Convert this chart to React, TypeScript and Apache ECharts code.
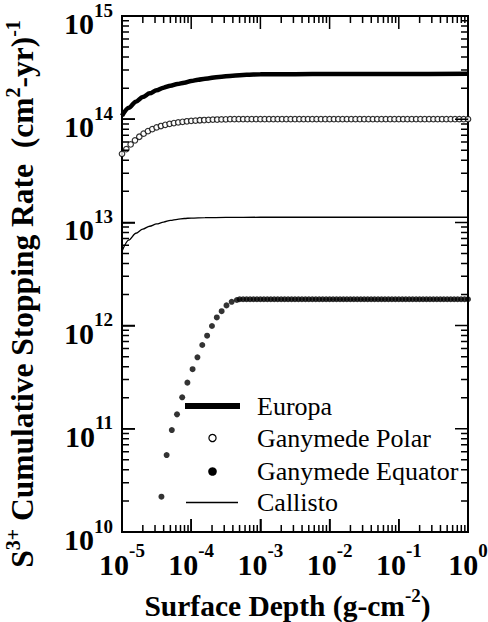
import { useEffect, useRef } from 'react';
import * as echarts from 'echarts';

const FONT = 'Liberation Serif';

const seriesNames = ['Europa', 'Ganymede Polar', 'Ganymede Equator', 'Callisto'];

const xDecades = [1e-5, 1e-4, 1e-3, 1e-2, 1e-1, 1];
const yDecades = [1e10, 1e11, 1e12, 1e13, 1e14, 1e15];
const minorSteps = [2, 3, 4, 5, 6, 7, 8, 9];

// Europa (thick line): depth exponent (log10 g/cm^2) and rate (cm^2-yr)^-1
const europaDepthExp = [-5, -4.9, -4.8, -4.7, -4.6, -4.5, -4.4, -4.3, -4.2, -4.1, -4.0, -3.9, -3.8, -3.6, -3.4, -3.2, -3.0, -2.5, -2, -1, 0];
const europaRate = [1.08e14, 1.29e14, 1.48e14, 1.64e14, 1.78e14, 1.91e14, 2.02e14, 2.11e14, 2.19e14, 2.26e14, 2.34e14, 2.41e14, 2.47e14, 2.57e14, 2.64e14, 2.69e14, 2.72e14, 2.73e14, 2.74e14, 2.74e14, 2.75e14];

// Ganymede Polar (open circles)
const polarDepthExp = [
  -5, -4.9375, -4.875, -4.8125, -4.75, -4.6875, -4.625, -4.5625,
  -4.5, -4.4375, -4.375, -4.3125, -4.25, -4.1875, -4.125, -4.0625,
  -4, -3.9375, -3.875, -3.8125, -3.75, -3.6875, -3.625, -3.5625,
  -3.5, -3.4375, -3.375, -3.3125, -3.25, -3.1875, -3.125, -3.0625,
  -3, -2.9375, -2.875, -2.8125, -2.75, -2.6875, -2.625, -2.5625,
  -2.5, -2.4375, -2.375, -2.3125, -2.25, -2.1875, -2.125, -2.0625,
  -2, -1.9375, -1.875, -1.8125, -1.75, -1.6875, -1.625, -1.5625,
  -1.5, -1.4375, -1.375, -1.3125, -1.25, -1.1875, -1.125, -1.0625,
  -1, -0.9375, -0.875, -0.8125, -0.75, -0.6875, -0.625, -0.5625,
  -0.5, -0.4375, -0.375, -0.3125, -0.25, -0.1875, -0.125, -0.0625, 0,
];
const polarRate = [
  4.62e13, 5.13e13, 5.69e13, 6.24e13, 6.76e13, 7.24e13, 7.66e13, 8.0e13,
  8.32e13, 8.59e13, 8.83e13, 9.02e13, 9.18e13, 9.31e13, 9.44e13, 9.55e13,
  9.64e13, 9.7e13, 9.77e13, 9.82e13, 9.86e13, 9.91e13, 9.93e13, 9.95e13,
  9.98e13, 1e14, 1e14, 1e14, 1e14, 1e14, 1e14, 1e14,
  1e14, 1e14, 1e14, 1e14, 1e14, 1e14, 1e14, 1e14,
  1e14, 1e14, 1e14, 1e14, 1e14, 1e14, 1e14, 1e14,
  1e14, 1e14, 1e14, 1e14, 1e14, 1e14, 1e14, 1e14,
  1e14, 1e14, 1e14, 1e14, 1e14, 1e14, 1e14, 1e14,
  1e14, 1e14, 1e14, 1e14, 1e14, 1e14, 1e14, 1e14,
  1e14, 1e14, 1e14, 1e14, 1e14, 1e14, 1e14, 1e14, 1e14,
];

// Ganymede Equator (filled dots)
const equatorDepthExp = [
  -4.43, -4.355, -4.28, -4.205, -4.13, -4.055, -3.98, -3.91, -3.84, -3.77, -3.7, -3.63, -3.56, -3.49, -3.415, -3.34,
  -3.3, -3.25, -3.2, -3.15, -3.1, -3.05, -3, -2.95, -2.9, -2.85,
  -2.8, -2.75, -2.7, -2.65, -2.6, -2.55, -2.5, -2.45, -2.4, -2.35,
  -2.3, -2.25, -2.2, -2.15, -2.1, -2.05, -2, -1.95, -1.9, -1.85,
  -1.8, -1.75, -1.7, -1.65, -1.6, -1.55, -1.5, -1.45, -1.4, -1.35,
  -1.3, -1.25, -1.2, -1.15, -1.1, -1.05, -1, -0.95, -0.9, -0.85,
  -0.8, -0.75, -0.7, -0.65, -0.6, -0.55, -0.5, -0.45, -0.4, -0.35,
  -0.3, -0.25, -0.2, -0.15, -0.1, -0.05, 0,
];
const equatorRate = [
  2.2e10, 5.57e10, 9.72e10, 1.38e11, 2.02e11, 2.8e11, 3.78e11, 4.93e11, 6.49e11, 7.98e11, 9.91e11, 1.2e12, 1.38e12, 1.57e12, 1.7e12, 1.77e12,
  1.8e12, 1.8e12, 1.8e12, 1.8e12, 1.8e12, 1.8e12, 1.8e12, 1.8e12, 1.8e12, 1.8e12,
  1.8e12, 1.8e12, 1.8e12, 1.8e12, 1.8e12, 1.8e12, 1.8e12, 1.8e12, 1.8e12, 1.8e12,
  1.8e12, 1.8e12, 1.8e12, 1.8e12, 1.8e12, 1.8e12, 1.8e12, 1.8e12, 1.8e12, 1.8e12,
  1.8e12, 1.8e12, 1.8e12, 1.8e12, 1.8e12, 1.8e12, 1.8e12, 1.8e12, 1.8e12, 1.8e12,
  1.8e12, 1.8e12, 1.8e12, 1.8e12, 1.8e12, 1.8e12, 1.8e12, 1.8e12, 1.8e12, 1.8e12,
  1.8e12, 1.8e12, 1.8e12, 1.8e12, 1.8e12, 1.8e12, 1.8e12, 1.8e12, 1.8e12, 1.8e12,
  1.8e12, 1.8e12, 1.8e12, 1.8e12, 1.8e12, 1.8e12, 1.8e12,
];

// Callisto (thin line)
const callistoDepthExp = [-5, -4.9, -4.8, -4.7, -4.6, -4.5, -4.4, -4.3, -4.2, -4.1, -4.0, -3.8, -3.5, -3, -2, -1, 0];
const callistoRate = [5.25e12, 6.76e12, 7.85e12, 8.61e12, 9.18e12, 9.66e12, 1.007e13, 1.047e13, 1.072e13, 1.091e13, 1.102e13, 1.112e13, 1.117e13, 1.122e13, 1.122e13, 1.122e13, 1.122e13];

const X_MIN = 1e-5, X_MAX = 1, Y_MIN = 1e10, Y_MAX = 1e15;
const GRID = { left: 122, right: 20, top: 16, bottom: 90 };
const W = 488, H = 622;
const PX_PER_DEC_X = (W - GRID.left - GRID.right) / 5;
const PX_PER_DEC_Y = (H - GRID.top - GRID.bottom) / 5;
const MAJOR = 13, MINOR = 7;

const pairs = (exps: number[], vals: number[]) => exps.map((e, i) => [Math.pow(10, e), vals[i]]);
const minorsOf = (decades: number[]) => decades.slice(0, -1).flatMap((d) => minorSteps.map((k) => k * d));

const labelRich = {
  b: { fontFamily: FONT, fontWeight: 'bold', fontSize: 30, lineHeight: 38, verticalAlign: 'bottom', color: '#000' },
  s: { fontFamily: FONT, fontWeight: 'bold', fontSize: 19, lineHeight: 20, verticalAlign: 'top', color: '#000' },
};
const nameRich = {
  n: { fontFamily: FONT, fontWeight: 'bold', fontSize: 29.5, lineHeight: 35, verticalAlign: 'bottom', color: '#000' },
  s: { fontFamily: FONT, fontWeight: 'bold', fontSize: 19, lineHeight: 20, verticalAlign: 'top', color: '#000' },
};
const yNameRich = {
  n: { fontFamily: FONT, fontWeight: 'bold', fontSize: 31.5, lineHeight: 35, verticalAlign: 'bottom', color: '#000' },
  s: { fontFamily: FONT, fontWeight: 'bold', fontSize: 20, lineHeight: 20, verticalAlign: 'top', color: '#000' },
};
const fmt = (v: number) => `{b|10}{s|${Math.round(Math.log10(v))}}`;

// Inward tick segments on all four sides, drawn as broken line series through the log scales.
function tickData() {
  const out: any[] = [];
  const xTicks = [...xDecades.map((v) => [v, MAJOR]), ...minorsOf(xDecades).map((v) => [v, MINOR])];
  const yTicks = [...yDecades.map((v) => [v, MAJOR]), ...minorsOf(yDecades).map((v) => [v, MINOR])];
  for (const [v, len] of xTicks) {
    const f = Math.pow(10, len / PX_PER_DEC_Y);
    out.push([v, Y_MIN], [v, Y_MIN * f], [v, '-']);
    out.push([v, Y_MAX], [v, Y_MAX / f], [v, '-']);
  }
  for (const [v, len] of yTicks) {
    const f = Math.pow(10, len / PX_PER_DEC_X);
    out.push([X_MIN, v], [X_MIN * f, v], ['-', v]);
    out.push([X_MAX, v], [X_MAX / f, v], ['-', v]);
  }
  return out;
}

export default function App() {
  const ref = useRef<HTMLDivElement>(null);
  useEffect(() => {
    const chart = echarts.init(ref.current!, null, { renderer: 'svg' });
    const option: any = {
      animation: false,
      backgroundColor: '#fff',
      grid: {
        ...GRID,
        containLabel: false, outerBoundsMode: 'none',
        show: true, borderColor: '#000', borderWidth: 2, backgroundColor: 'transparent',
      },
      xAxis: {
        type: 'log', logBase: 10, min: X_MIN, max: X_MAX,
        splitLine: { show: false },
        axisLine: { show: true, onZero: false, lineStyle: { color: '#000', width: 2 } },
        axisTick: { show: true, inside: true, length: MAJOR, lineStyle: { color: '#000', width: 1.5 } },
        axisLabel: { show: true, formatter: fmt, rich: labelRich, margin: 9, showMinLabel: true, showMaxLabel: true },
        name: '{n|Surface Depth (g-cm}{s|-2}{n|)}',
        nameLocation: 'middle',
        nameGap: 54,
        nameMoveOverlap: false,
        nameTextStyle: { rich: nameRich, padding: [0, 15, 0, 0] },
      },
      yAxis: {
        type: 'log', logBase: 10, min: Y_MIN, max: Y_MAX,
        splitLine: { show: false },
        axisLine: { show: true, onZero: false, lineStyle: { color: '#000', width: 2 } },
        axisTick: { show: true, inside: true, length: MAJOR, lineStyle: { color: '#000', width: 1.5 } },
        axisLabel: { show: true, formatter: fmt, rich: labelRich, margin: 9, padding: [7, 0, 0, 0], showMinLabel: true, showMaxLabel: true },
        name: '{n|S}{s|3+}{n| Cumulative Stopping Rate  (cm}{s|2}{n|-yr)}{s|-1}',
        nameLocation: 'middle',
        nameRotate: 90,
        nameGap: 84,
        nameMoveOverlap: false,
        nameTextStyle: { rich: yNameRich, padding: [0, 40, 0, 0] },
      },
      series: [
        {
          name: 'ticks', type: 'line', data: tickData(),
          symbol: 'none', showSymbol: false, connectNulls: false, silent: true, clip: false, z: 6,
          lineStyle: { color: '#000', width: 1.5 },
        },
        {
          name: seriesNames[0], type: 'line', data: pairs(europaDepthExp, europaRate),
          symbol: 'none', smooth: 0.3, smoothMonotone: 'x',
          lineStyle: { color: '#000', width: 4.5 }, z: 3,
        },
        {
          name: seriesNames[1], type: 'scatter', data: pairs(polarDepthExp, polarRate),
          symbol: 'circle', symbolSize: 5.5,
          itemStyle: { color: '#fff', borderColor: '#000', borderWidth: 1.2 },
        },
        {
          name: seriesNames[2], type: 'scatter', data: pairs(equatorDepthExp, equatorRate),
          symbol: 'circle', symbolSize: 6, itemStyle: { color: '#000' },
        },
        {
          name: seriesNames[3], type: 'line', data: pairs(callistoDepthExp, callistoRate),
          symbol: 'none', smooth: 0.3, smoothMonotone: 'x',
          lineStyle: { color: '#000', width: 1.3 },
        },
      ],
      graphic: [
        { type: 'rect', shape: { x: 185, y: 403, width: 55, height: 6 }, style: { fill: '#000' } },
        { type: 'circle', shape: { cx: 212.5, cy: 438, r: 3.6 }, style: { fill: '#fff', stroke: '#000', lineWidth: 1.2 } },
        { type: 'circle', shape: { cx: 212.5, cy: 471.5, r: 4.3 }, style: { fill: '#000' } },
        { type: 'line', shape: { x1: 186, y1: 502.5, x2: 238, y2: 502.5 }, style: { stroke: '#000', lineWidth: 1.6 } },
        ...seriesNames.map((name, i) => ({
          type: 'text',
          x: 257,
          y: [406, 438, 471, 502][i],
          style: { text: name, fontFamily: FONT, fontSize: 26, fill: '#000', verticalAlign: 'middle', align: 'left' },
        })),
      ],
    };
    chart.setOption(option);
    return () => chart.dispose();
  }, []);
  return <div ref={ref} style={{ position: 'absolute', left: 0, top: 0, width: W, height: H }} />;
}
